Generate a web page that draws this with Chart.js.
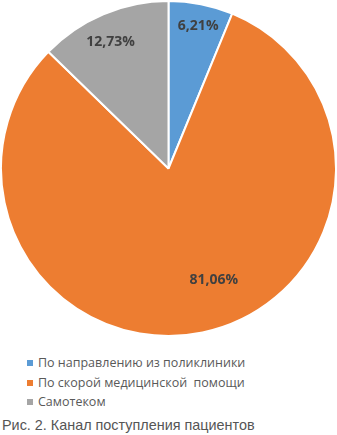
<!DOCTYPE html>
<html>
<head>
<meta charset="utf-8">
<script src="https://cdn.jsdelivr.net/npm/chart.js@4"></script>
<style>
    body { margin: 0; background: #fff; }
    #wrap { position: relative; width: 337px; height: 435px; }
    #pie-box { position: absolute; left: 0; top: 0; width: 337px; height: 337px; }
    #legend { position: absolute; left: 27px; top: 353px; margin: 0; padding: 0; list-style: none;
        font-family: "Open Sans", sans-serif; font-size: 12.5px; color: #595959; }
    #legend li { height: 19.5px; line-height: 19.5px; white-space: pre; }
    #legend span { display: inline-block; width: 6px; height: 6px; margin-right: 5px; vertical-align: 1px; }
    #caption { position: absolute; left: 2px; top: 417px; font-family: "Liberation Sans", sans-serif;
        font-size: 14.4px; color: #555; white-space: nowrap; }
</style>
</head>
<body>
<div id="wrap">
    <div id="pie-box"><canvas id="myPie"></canvas></div>
    <ul id="legend"></ul>
    <div id="caption">Рис. 2. Канал поступления пациентов</div>
</div>
<script>
const categories = ['По направлению из поликлиники', 'По скорой медицинской  помощи', 'Самотеком'];
const values = [6.21, 81.06, 12.73];
const valueLabels = ['6,21%', '81,06%', '12,73%'];
const colors = ['#5B9BD5', '#ED7D31', '#A5A5A5'];

// where each label sits inside its slice
const labelRadius = [0.87, 0.72, 0.83];
const labelShift = [0.01, -0.18, -0.03];

const sliceLabels = {
    id: 'sliceLabels',
    afterDatasetsDraw(chart) {
        const ctx = chart.ctx;
        const arcs = chart.getDatasetMeta(0).data;
        ctx.save();
        ctx.font = 'bold 14px "Open Sans", sans-serif';
        ctx.fillStyle = '#404040';
        ctx.textAlign = 'center';
        ctx.textBaseline = 'middle';
        arcs.forEach((arc, i) => {
            const p = arc.getProps(['x', 'y', 'startAngle', 'endAngle', 'outerRadius']);
            const a = (p.startAngle + p.endAngle) / 2 + labelShift[i];
            const r = p.outerRadius * labelRadius[i];
            ctx.fillText(valueLabels[i], p.x + Math.cos(a) * r, p.y + Math.sin(a) * r);
        });
        ctx.restore();
    }
};

const ctx = document.getElementById('myPie').getContext('2d');
const myPie = new Chart(ctx, {
    type: 'pie',
    data: {
        labels: categories,
        datasets: [{
            data: values,
            backgroundColor: colors,
            borderColor: '#ffffff',
            borderWidth: 2
        }]
    },
    options: {
        responsive: true,
        maintainAspectRatio: false,
        animation: false,
        layout: { padding: 0 },
        plugins: {
            legend: { display: false },
            tooltip: { enabled: false }
        }
    },
    plugins: [sliceLabels]
});

const legend = document.getElementById('legend');
categories.forEach((name, i) => {
    const li = document.createElement('li');
    const box = document.createElement('span');
    box.style.background = colors[i];
    li.appendChild(box);
    li.appendChild(document.createTextNode(name));
    legend.appendChild(li);
});
</script>
</body>
</html>
